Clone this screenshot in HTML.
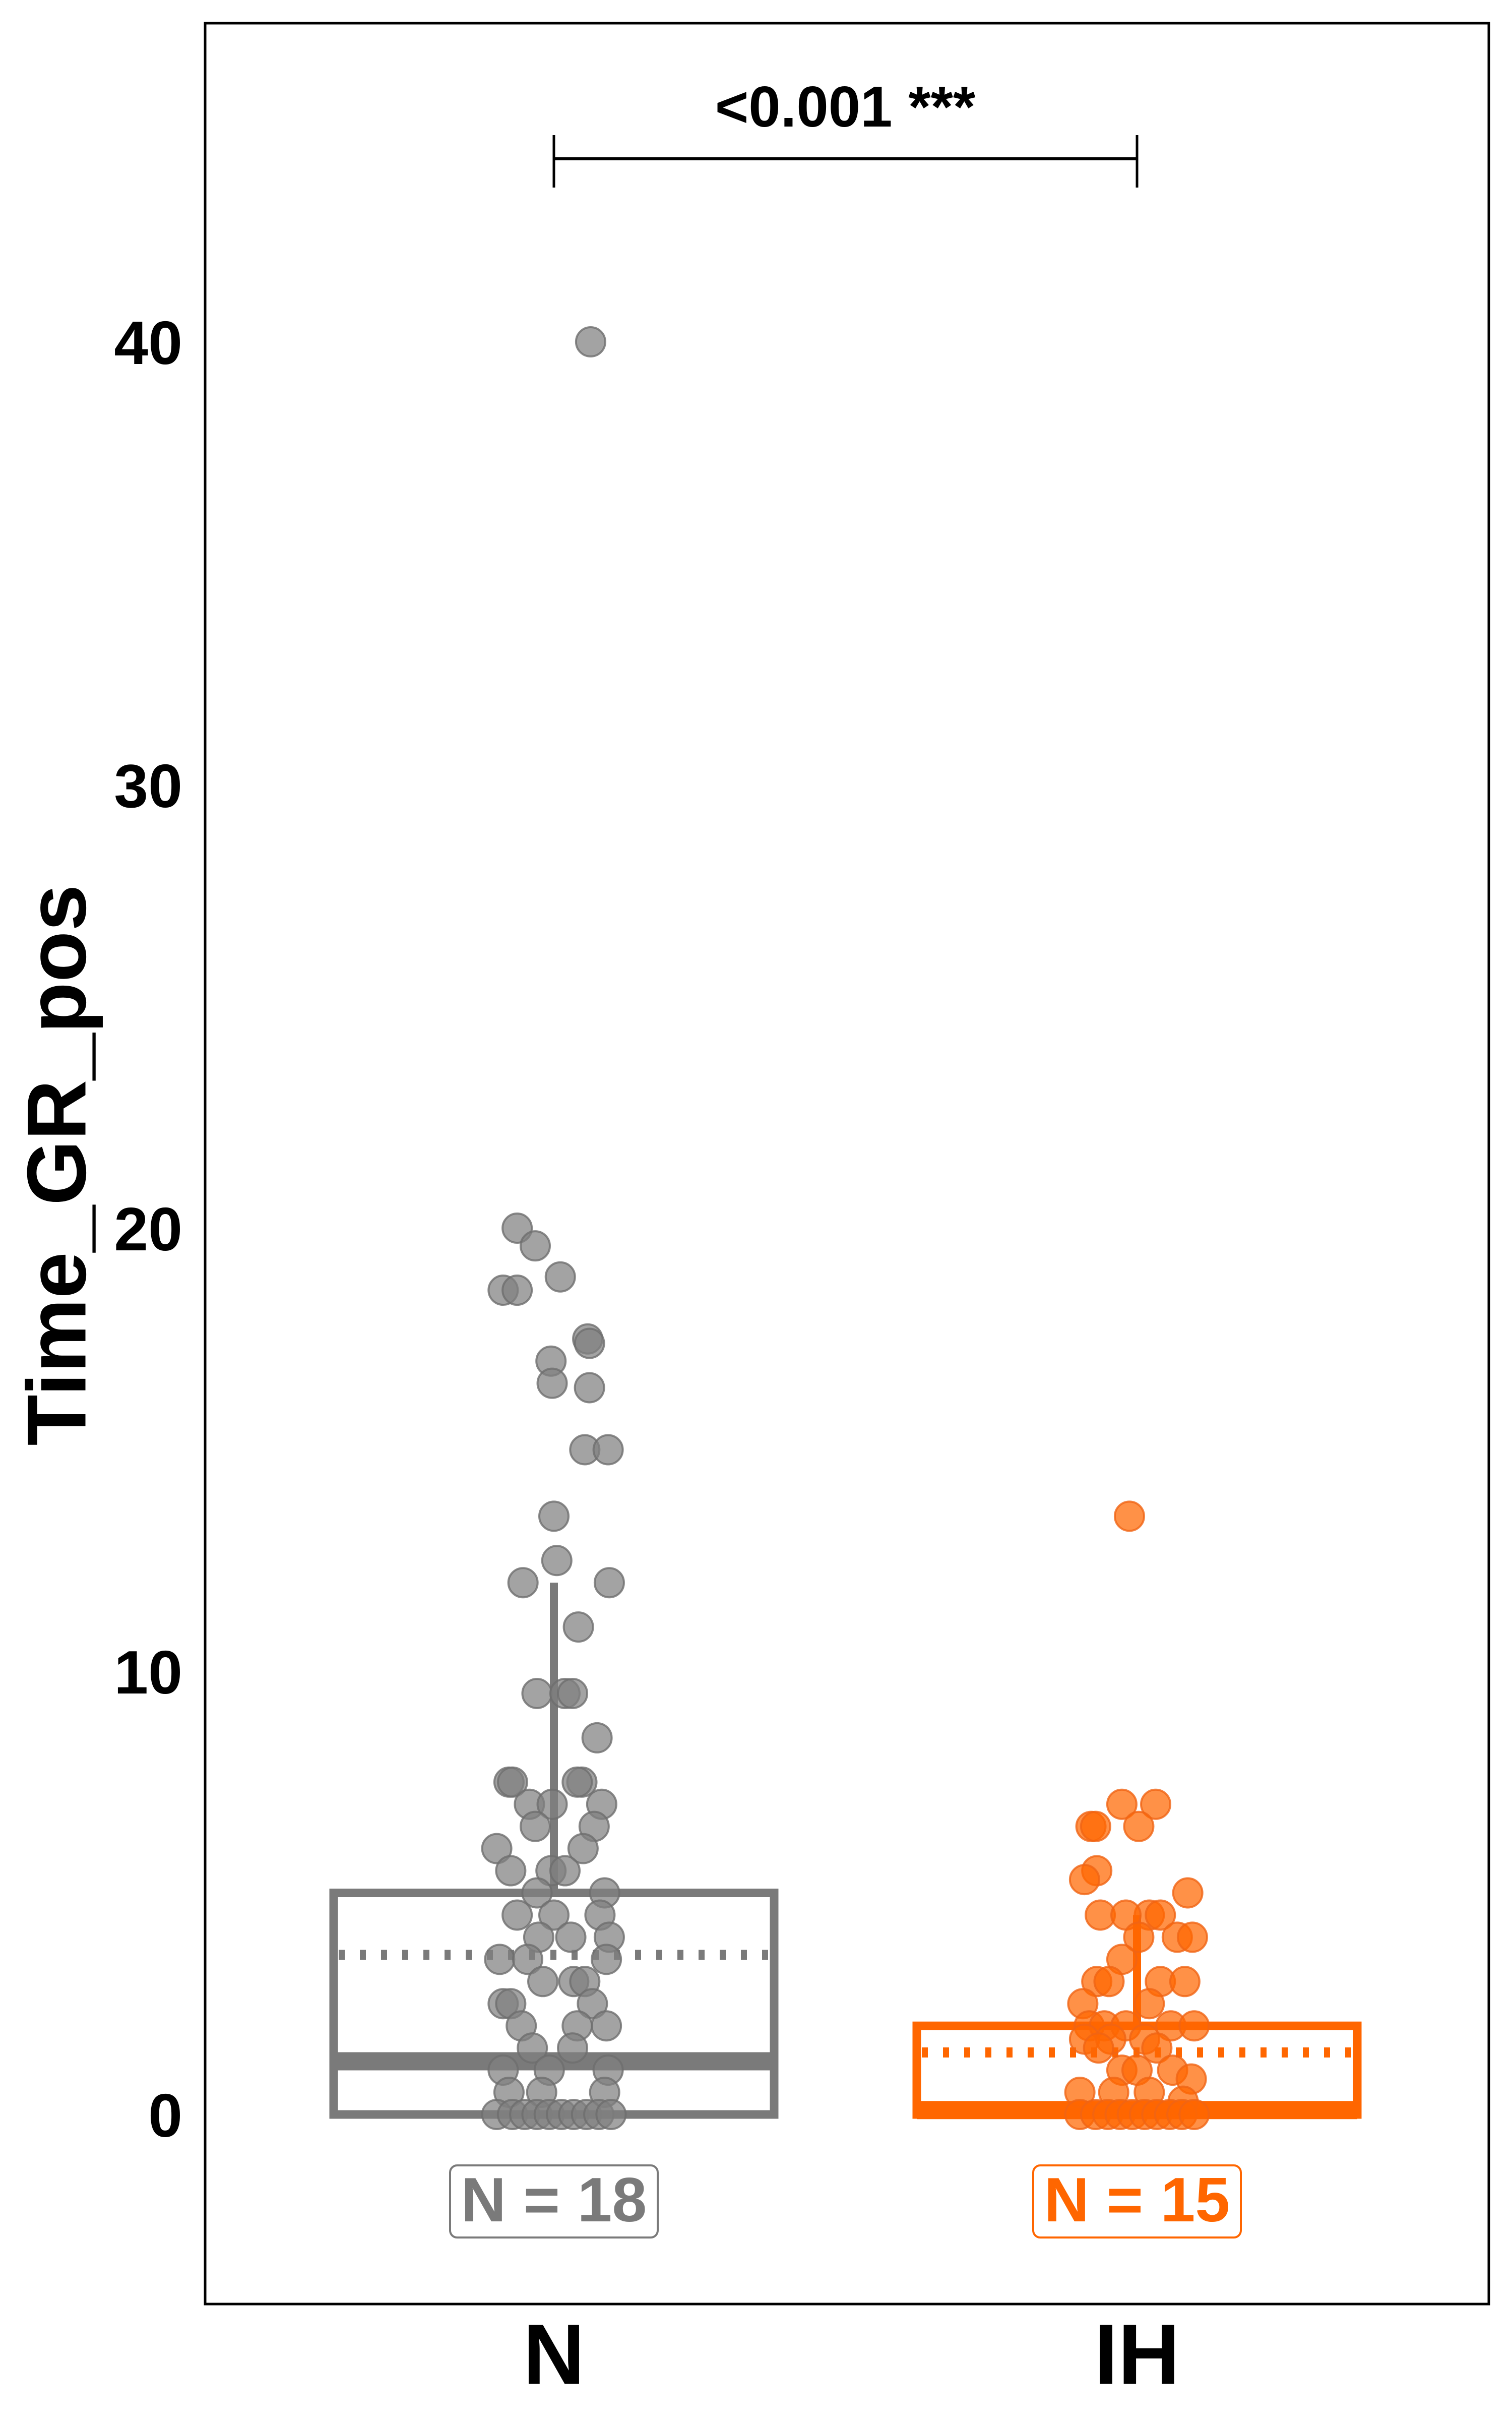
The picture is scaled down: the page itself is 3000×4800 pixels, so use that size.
<!DOCTYPE html>
<html><head><meta charset="utf-8"><style>html,body{margin:0;padding:0;background:#fff}svg{display:block}</style></head>
<body>
<svg id="chart" xmlns="http://www.w3.org/2000/svg" width="3000" height="4800" viewBox="0 0 3000 4800" font-family="'Liberation Sans', Arial, sans-serif">
<rect x="0" y="0" width="3000" height="4800" fill="#fff"/>
<g id="marks"></g>
<rect x="407" y="46" width="2547" height="4524" fill="none" stroke="#000" stroke-width="5"/>
<g id="axes"></g>
<text x="113" y="2311" transform="rotate(-90 113 2311)" text-anchor="middle" dominant-baseline="central" font-weight="bold" font-size="166">Time_GR_pos</text>
<g>
<line x1="1099" y1="315" x2="2256" y2="315" stroke="#000" stroke-width="6"/>
<line x1="1099" y1="268" x2="1099" y2="372" stroke="#000" stroke-width="5"/>
<line x1="2256" y1="268" x2="2256" y2="372" stroke="#000" stroke-width="5"/>
<text x="1677" y="251" text-anchor="middle" font-weight="bold" font-size="114">&lt;0.001 ***</text>
</g>
</svg>
<script>
const categories=["N","IH"];
const colors=["#7a7a7a","#ff6600"];
const pointFill=["rgba(128,128,128,0.72)","rgba(255,102,0,0.72)"];
const pointStroke=["rgba(110,110,110,0.8)","rgba(240,100,20,0.8)"];
const yTicks=[0,10,20,30,40];
const nLabels=["N = 18","N = 15"];
const statsQ1=[0,0];
const statsMedian=[1.2,0.1];
const statsQ3=[5.0,2.0];
const statsMean=[3.6,1.4];
const statsWhiskerHi=[12.0,4.5];
const valuesN=[40,20,19.6,18.9,18.6,18.6,17.5,17.4,17.0,16.5,16.4,15.0,15.0,13.5,12.5,12.0,12.0,11.0,9.5,9.5,9.5,8.5,7.5,7.5,7.0,7.0,7.5,7.5,7.0,6.5,6.5,6.0,6.0,5.5,5.5,5.5,5.0,5.0,4.5,4.5,4.5,4.0,4.0,4.0,3.5,3.5,3.5,3.0,3.0,3.0,2.5,2.5,2.5,2.0,2.0,2.0,1.5,1.5,1.0,1.0,1.0,0.5,0.5,0.5,0,0,0,0,0,0,0,0,0,0];
const jitterN=[0.063,-0.063,-0.032,0.011,-0.087,-0.063,0.058,0.061,-0.005,-0.003,0.061,0.053,0.093,0,0.005,-0.053,0.095,0.042,-0.029,0.019,0.032,0.074,-0.077,-0.071,-0.042,-0.003,0.048,0.040,0.082,-0.032,0.069,-0.098,0.050,-0.074,-0.005,0.019,-0.029,0.087,-0.063,0,0.079,-0.026,0.029,0.095,-0.093,-0.045,0.090,-0.019,0.034,0.053,-0.087,-0.074,0.066,-0.056,0.040,0.090,-0.037,0.032,-0.087,-0.008,0.093,-0.077,-0.021,0.087,-0.098,-0.071,-0.050,-0.029,-0.008,0.013,0.034,0.056,0.077,0.098];
const valuesIH=[13.5,7.0,7.0,6.5,6.5,6.5,5.5,5.3,5.0,4.5,4.5,4.5,4.5,4.0,4.0,4.0,3.5,3.0,3.0,3.0,3.0,2.5,2.5,2.0,2.0,2.0,2.0,2.0,1.7,1.7,1.7,1.5,1.5,1.0,1.0,1.0,0.8,0.5,0.5,0.5,0.3,0,0,0,0,0,0,0,0,0,0];
const jitterIH=[-0.013,-0.026,0.032,-0.079,-0.071,0.003,-0.069,-0.090,0.087,-0.063,0.021,0.040,-0.019,0.003,0.069,0.095,-0.026,-0.069,-0.048,0.040,0.082,-0.093,0.021,-0.082,-0.056,-0.019,0.058,0.098,-0.090,-0.045,0.013,-0.066,0.034,-0.026,0,0.061,0.093,-0.098,-0.040,0.021,0.079,-0.098,-0.071,-0.050,-0.029,-0.008,0.013,0.034,0.056,0.077,0.098];

const NS="http://www.w3.org/2000/svg";
function yS(v){return 4194-87.9*v;}
function xS(i){return 1099+i*1157;}
const HALF=437;
function mk(tag,attrs,parent){const e=document.createElementNS(NS,tag);for(const k in attrs)e.setAttribute(k,attrs[k]);parent.appendChild(e);return e;}
const marks=document.getElementById('marks');
const axes=document.getElementById('axes');

categories.forEach((c,i)=>{
  const g=mk('g',{},marks);
  
  
  const cx=xS(i),col=colors[i];
  const w=mk('line',{x1:cx,x2:cx,y1:yS(statsQ3[i]),y2:yS(statsWhiskerHi[i]),stroke:col,'stroke-width':16},g);
  
  
  const r=mk('rect',{x:cx-HALF,y:yS(statsQ3[i]),width:2*HALF,height:yS(statsQ1[i])-yS(statsQ3[i]),fill:'none',stroke:col,'stroke-width':17},g);
  
  
  const m=mk('line',{x1:cx-HALF,x2:cx+HALF,y1:yS(statsMedian[i]),y2:yS(statsMedian[i]),stroke:col,'stroke-width':36},g);
  
  
  const mn=mk('line',{x1:cx-HALF+10,x2:cx+HALF-10,y1:yS(statsMean[i]),y2:yS(statsMean[i]),stroke:col,'stroke-width':20,'stroke-dasharray':'12 30'},g);
  
  
});

[[valuesN,jitterN],[valuesIH,jitterIH]].forEach(([vals,jit],i)=>{
  const g=mk('g',{},marks);
  
  
  vals.forEach((v,k)=>{
    const p=mk('circle',{cx:xS(i+jit[k]),cy:yS(v),r:29,fill:pointFill[i],stroke:pointStroke[i],'stroke-width':4},g);
    
    
  });
});

categories.forEach((c,i)=>{
  const cx=xS(i),col=colors[i];
  const g=mk('g',{},marks);
  
  
  mk('rect',{x:cx-206,y:4295,width:412,height:143,rx:14,fill:'#fff',stroke:col,'stroke-width':4},g);
  const t=mk('text',{x:cx,y:4406,'text-anchor':'middle','font-weight':'bold','font-size':124,fill:col},g);
  t.textContent=nLabels[i];
  const xl=mk('text',{x:cx,y:4728,'text-anchor':'middle','font-weight':'bold','font-size':170,fill:'#000'},axes);
  xl.textContent=c;
  
  
});

yTicks.forEach(t=>{
  const tl=mk('text',{x:362,y:yS(t)+44,'text-anchor':'end','font-weight':'bold','font-size':122,fill:'#000'},axes);
  tl.textContent=String(t);
  
  
});
</script>
</body></html>
